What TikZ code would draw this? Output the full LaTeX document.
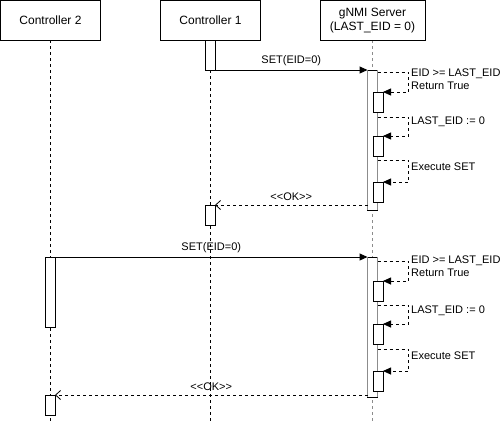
\documentclass[tikz,border=0pt]{standalone}
\usepackage{fontspec}
\setmainfont{Liberation Sans}
\usetikzlibrary{arrows.meta}
\definecolor{lifegray}{HTML}{8C8C8C}
\begin{document}
\begin{tikzpicture}[x=1pt,y=-1pt,
  head/.style={draw,line width=1pt,minimum width=100pt,minimum height=40pt,inner sep=0pt,
    font=\fontsize{12}{14}\selectfont,align=center,fill=white},
  life/.style={dash pattern=on 3pt off 3pt,line width=1pt},
  srvlife/.style={dash pattern=on 3pt off 3pt,line width=1.6pt,draw=lifegray},
  bar/.style={draw,fill=white,line width=1pt,minimum width=10pt,inner sep=0pt,outer sep=0pt,anchor=north},
  baredge/.style={line width=1.6pt,draw=lifegray},
  msg/.style={line width=1pt,-{Triangle[length=8pt,width=7pt]}},
  selfmsg/.style={line width=0.8pt,dash pattern=on 3pt off 3pt,-{Triangle[length=8pt,width=7pt]}},
  ret/.style={line width=0.8pt,dash pattern=on 3pt off 3pt,-{Straight Barb[length=5pt,width=9pt]}},
  lbl/.style={font=\fontsize{11}{13}\selectfont,inner sep=0pt},
  note/.style={font=\fontsize{11}{13}\selectfont,inner sep=0pt,anchor=west,align=left}]
\useasboundingbox (0,0) rectangle (502,421);
\fill[white] (0,0) rectangle (502,421);

% lifelines
\draw[life] (50,40) coordinate (l2top) -- (50,421) coordinate (l2bot);
\draw[life] (210,40) coordinate (l1top) -- (210,421) coordinate (l1bot);
\draw[srvlife] (372.5,40) coordinate (lstop) -- (372.5,421) coordinate (lsbot);

% headers
\node[head] (c2) at (50.5,20.5) {Controller 2};
\node[head] (c1) at (210.5,20.5) {Controller 1};
\node[head,minimum width=105pt] (srv) at (372.5,20.5) {gNMI Server\\(LAST\_EID = 0)};

% ---------- round 1 ----------
\node[bar,minimum height=30pt] (a1) at (210,40) {};
\node[bar,minimum height=140pt] (s1) at (372.5,70) {};
\draw[baredge] (s1.north west) -- (s1.south west) (s1.north east) -- (s1.south east);
\node[bar,minimum height=20pt] (sb1) at (378,92) {};
\node[bar,minimum height=20pt] (sb2) at (378,136) {};
\node[bar,minimum height=20pt] (sb3) at (378,182) {};

\draw[msg] (a1.south east) -- node[lbl,above=4pt] {SET(EID=0)} (s1.north west);
\draw[selfmsg] (s1.east |- 0,72) -- ++(31,0) |- (sb1.north east);
\draw[selfmsg] (s1.east |- 0,117) -- ++(31,0) |- (sb2.north east);
\draw[selfmsg] (s1.east |- 0,160) -- ++(31,0) |- (sb3.north east);
\node[note] (n1) at (411,79.5) {EID >= LAST\_EID\\Return True};
\node[note] (n2) at (411,122) {LAST\_EID := 0};
\node[note] (n3) at (411,167) {Execute SET};

\node[bar,minimum height=20pt] (r1) at (210,205) {};
\draw[ret] (s1.west |- r1.north) -- node[lbl,above=4pt] {<{}<OK>{}>} (r1.north east);

% ---------- round 2 ----------
\node[bar,minimum height=70pt] (a2) at (50,257) {};
\node[bar,minimum height=140pt] (s2) at (372.5,257) {};
\draw[baredge] (s2.north west) -- (s2.south west) (s2.north east) -- (s2.south east);
\node[bar,minimum height=20pt] (sb4) at (378,281) {};
\node[bar,minimum height=20pt] (sb5) at (378,324) {};
\node[bar,minimum height=20pt] (sb6) at (378,371) {};

\draw[msg] (a2.north east) -- node[lbl,above=4pt] {SET(EID=0)} (s2.north west);
\draw[selfmsg] (s2.east |- 0,261) -- ++(31,0) |- (sb4.north east);
\draw[selfmsg] (s2.east |- 0,305) -- ++(31,0) |- (sb5.north east);
\draw[selfmsg] (s2.east |- 0,349) -- ++(31,0) |- (sb6.north east);
\node[note] (n4) at (411,266.5) {EID >= LAST\_EID\\Return True};
\node[note] (n5) at (411,311) {LAST\_EID := 0};
\node[note] (n6) at (411,356) {Execute SET};

\node[bar,minimum height=20pt] (r2) at (50,395) {};
\draw[ret] (s2.west |- r2.north) -- node[lbl,above=4pt] {<{}<OK>{}>} (r2.north east);
\end{tikzpicture}
\end{document}
